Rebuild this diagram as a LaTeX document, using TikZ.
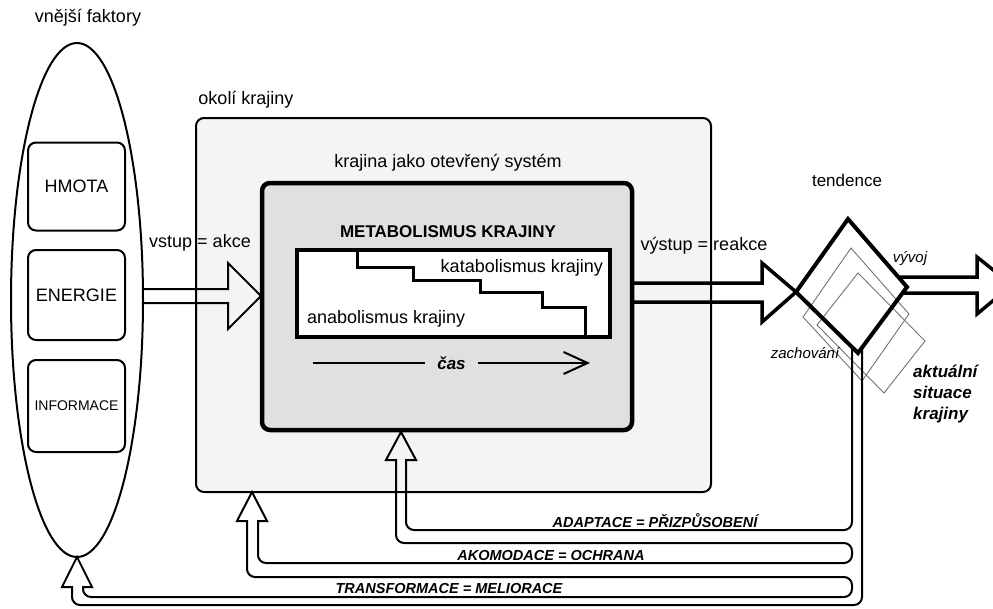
\documentclass[tikz,border=0pt]{standalone}
\usepackage{fontspec}
\setmainfont{Liberation Sans}
\usetikzlibrary{arrows.meta}
\definecolor{okolifill}{gray}{0.955}
\definecolor{krajinafill}{gray}{0.88}
\newcommand{\lblfont}{\fontsize{18}{21}\selectfont}
\newcommand{\fbfont}{\fontsize{14.5}{17}\selectfont\bfseries\itshape}

\begin{document}
\begin{tikzpicture}[x=1pt,y=-1pt,
  lbl/.style={font=\lblfont, inner sep=0pt},
  factor/.style={draw, line width=2pt, rounded corners=8pt, minimum width=97pt, minimum height=88pt, font=\lblfont},
  feedback/.style={font=\fbfont, inner sep=0pt},
  thinbox/.style={draw=black!55, line width=0.9pt}]
\useasboundingbox (0,0) rectangle (993,608);

%%%%%% okoli krajiny %%%%%%
\draw[line width=2pt, rounded corners=8pt, fill=okolifill] (196,118) rectangle (711,492);
\node (okoli) at (246,100) [lbl] {okolí krajiny};

%%%%%% krajina jako system %%%%%%
\draw[line width=4.5pt, rounded corners=8pt, fill=krajinafill] (262,183) rectangle (632,430);
\node (system) at (448,163) [lbl] {krajina jako otevřený systém};
\node (meta) at (448,232) [lbl, font={\fontsize{17}{20}\selectfont\bfseries}] {METABOLISMUS KRAJINY};

\draw[line width=4pt, fill=white] (297,250) rectangle (610,337);
\draw[line width=3pt] (357,250) -- (357,267) -- (413,267) -- (413,280) -- (480,280) -- (480,292) -- (542,292) -- (542,307) -- (585,307) -- (585,337);
\node (kata) at (603,268) [lbl, anchor=east] {katabolismus krajiny};
\node (ana) at (307,319) [lbl, anchor=west] {anabolismus krajiny};

\draw[line width=2pt, -{Straight Barb[length=24pt, width=22pt]}] (313,363) -- node[fill=krajinafill, inner xsep=12pt, font={\fontsize{17}{20}\selectfont\bfseries\itshape}] (cas) {čas} (590,363);

%%%%%% vnejsi faktory %%%%%%
\draw[line width=2pt] (77,300) ellipse [x radius=66pt, y radius=257pt];
\node (faktory) at (88,18) [lbl] {vnější faktory};
\node (hmota) at (76.5,186.5) [factor] {HMOTA};
\node (energie) at (76.5,295) [factor, minimum height=90pt] {ENERGIE};
\node (informace) at (76.5,406) [factor, minimum height=92pt, font={\fontsize{14}{16}\selectfont}] {INFORMACE};

%%%%%% vstup %%%%%%
\draw[line width=2pt] (143,289) -- (228,289) -- (228,263) -- (261,296) -- (228,329) -- (228,303) -- (143,303);
\node (vstup) at (200,243) [lbl] {vstup = akce};

%%%%%% vystup %%%%%%
\draw[line width=3.5pt] (634,283) -- (762,283) -- (762,263) -- (796,292) -- (762,322) -- (762,302) -- (634,302);
\node (vystup) at (704,246) [lbl] {výstup = reakce};

%%%%%% tendence %%%%%%
\coordinate (dtop) at (848,219);
\coordinate (dright) at (907,287);
\coordinate (dbottom) at (858,353);
\coordinate (dleft) at (796,292);
\draw[thinbox] (851,248) -- (909,314) -- (862,381) -- (803,317) -- cycle;
\draw[thinbox] (858,273) -- (925,341) -- (884,393) -- (817,325) -- cycle;
\draw[line width=4pt] (dtop) -- (dright) -- (dbottom) -- (dleft) -- cycle;
\node (tendence) at (847,180) [lbl, font={\fontsize{17}{20}\selectfont}] {tendence};

\draw[line width=3.5pt] (898,277) -- (977,277) -- (977,257) -- (1012,285) -- (977,314) -- (977,293) -- (902,293);
\node (vyvoj) at (910,259) [lbl, font={\fontsize{15}{18}\selectfont\itshape}] {vývoj};
\node (zachovani) at (805,353) [lbl, font={\fontsize{15}{18}\selectfont\itshape}] {zachování};
\node (situace) at (913,394) [lbl, anchor=west, align=left, font={\fontsize{17}{21}\selectfont\bfseries\itshape}] {aktuální\\situace\\krajiny};

%%%%%% zpetna vazba %%%%%%
\draw[line width=2pt] (852,347) [rounded corners=8pt] -- (852,530) -- (406,530) [sharp corners] -- (406,460) -- (416,460) -- (401,432) -- (386,460) -- (396,460) [rounded corners=8pt] -- (396,543) -- (852,543) -- (852,563) -- (258,563) [sharp corners] -- (258,521) -- (267,521) -- (252,492) -- (237,521) -- (247,521) [rounded corners=8pt] -- (247,577) -- (852,577) -- (852,597) -- (83,597) [sharp corners] -- (83,587) -- (92,587) -- (77,557) -- (62,587) -- (72,587) [rounded corners=8pt] -- (72,605) -- (862,605) -- (862,347);

\node (adaptace) at (655,521) [feedback] {ADAPTACE = PŘIZPŮSOBENÍ};
\node (akomodace) at (551,555) [feedback] {AKOMODACE = OCHRANA};
\node (transformace) at (449,588) [feedback] {TRANSFORMACE = MELIORACE};

\end{tikzpicture}
\end{document}
